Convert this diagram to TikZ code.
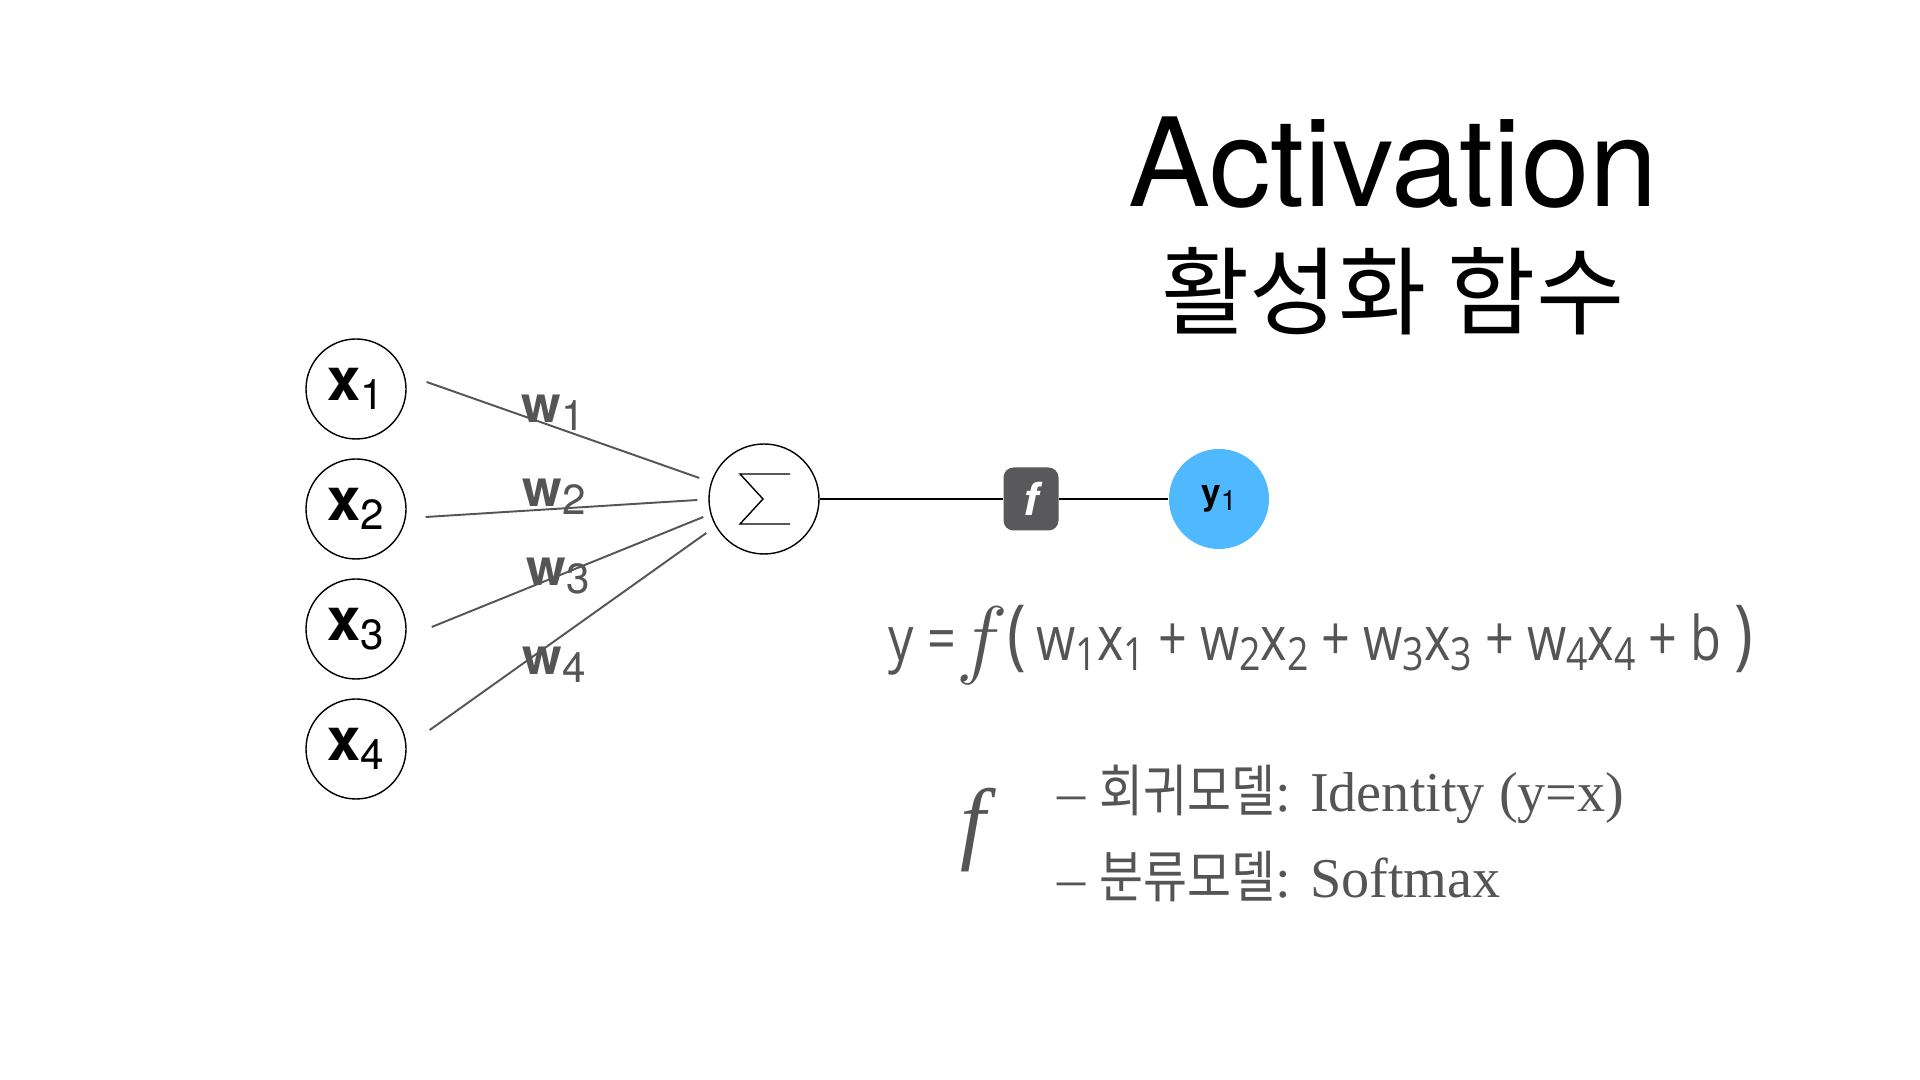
\documentclass[tikz,border=0pt]{standalone}
\usepackage{fontspec}
\usepackage{tikz}
\usepackage{xcolor}
\usetikzlibrary{calc}
\setmainfont{TeX Gyre Heros}
\newfontfamily\hangul{Noto Sans CJK KR}
\newfontfamily\hangulnarrow[FakeStretch=0.85]{Noto Sans CJK KR}
\newfontfamily\eqfont[FakeStretch=0.82]{Open Sans}
\newfontfamily\listfont{Liberation Serif}
\definecolor{txtgray}{HTML}{555555}
\definecolor{outblue}{HTML}{4FB8FF}
\definecolor{boxgray}{HTML}{59585B}
\newcommand{\insub}[2]{\textbf{#1}\raisebox{-0.3ex}{\fontsize{12}{12}\selectfont #2}}
\newcommand{\esub}[1]{\raisebox{-0.3ex}{\fontsize{13}{13}\selectfont #1}}

\begin{document}
\begin{tikzpicture}[
  neuron/.style={circle, draw, line width=0.4pt, minimum size=1cm, inner sep=0pt, font=\fontsize{17}{17}\selectfont},
  wline/.style={draw=txtgray, line width=0.55pt},
  wlabel/.style={text=txtgray, font=\fontsize{14.5}{14.5}\selectfont, inner sep=0pt},
  outline/.style={draw, line width=0.6pt}]
\useasboundingbox (0,0) rectangle (19.2,10.8);

% title
\node (title) at (13.93,9.17) {\fontsize{35}{35}\selectfont Activation};
\node (subtitle) at (13.93,7.89) {\hangul\fontsize{27.3}{27.3}\selectfont 활성화 함수};

% inputs and sum
\node[neuron] (x1) at (3.56,6.91) {\insub{x}{1}};
\node[neuron] (x2) at (3.56,5.71) {\insub{x}{2}};
\node[neuron] (x3) at (3.56,4.51) {\insub{x}{3}};
\node[neuron] (x4) at (3.56,3.31) {\insub{x}{4}};
\node[circle, draw, line width=0.4pt, minimum size=1.1cm] (sum) at (7.64,5.81) {};
\draw[line width=0.4pt] ($(sum)+(0.26,0.25)$) -- ($(sum)+(-0.24,0.25)$) -- ($(sum)+(-0.01,0)$)
  -- ($(sum)+(-0.24,-0.25)$) -- ($(sum)+(0.26,-0.25)$);

% weights
\draw[wline] ([shift={(0.20,0.07)}]x1.east) -- ([shift={(-0.09,0.21)}]sum.west);
\draw[wline] ([shift={(0.19,-0.08)}]x2.east) -- ([shift={(-0.11,-0.01)}]sum.west);
\draw[wline] ([shift={(0.25,0.02)}]x3.east) -- ([shift={(-0.05,-0.18)}]sum.west);
\draw[wline] ([shift={(0.23,0.19)}]x4.east) -- ([shift={(-0.02,-0.34)}]sum.west);
\node[wlabel] (w1) at (5.53,6.67) {\insub{w}{1}};
\node[wlabel] (w2) at (5.54,5.83) {\insub{w}{2}};
\node[wlabel] (w3) at (5.58,5.04) {\insub{w}{3}};
\node[wlabel] (w4) at (5.54,4.15) {\insub{w}{4}};

% activation and output
\node[fill=boxgray, rounded corners=0.1cm, minimum width=0.55cm, minimum height=0.63cm, inner sep=0pt,
  text=white, font=\fontsize{13}{13}\selectfont\bfseries\itshape] (act) at (10.31,5.81) {f};
\node[circle, fill=outblue, minimum size=1cm, inner sep=0pt] (y1) at (12.19,5.81)
  {\textbf{y}\raisebox{-0.3ex}{\fontsize{8}{8}\selectfont 1}};
\draw[outline] (sum) -- (act);
\draw[outline] (act) -- (y1);

% formula
\node[anchor=base west, inner sep=0pt, text=txtgray, font=\eqfont\fontsize{17.5}{17.5}\selectfont] (eq) at (8.88,4.19)
  {y =\raisebox{-0.2ex}{\fontsize{24}{24}\selectfont$f$}{\fontsize{22}{22}\selectfont(}\,w\esub{1}x\esub{1} + w\esub{2}x\esub{2} + w\esub{3}x\esub{3} + w\esub{4}x\esub{4} + b {\fontsize{22}{22}\selectfont)}};

% cases
\node[text=txtgray, font=\listfont\fontsize{26}{26}\selectfont\itshape] (fsym) at (9.73,2.50) {f};
\node[anchor=base west, inner sep=0pt, text=txtgray, font=\listfont\fontsize{16}{16}\selectfont] (reg) at (10.57,2.68)
  {– {\hangulnarrow 회귀모델}: Identity (y=x)};
\node[anchor=base west, inner sep=0pt, text=txtgray, font=\listfont\fontsize{16}{16}\selectfont] (cls) at (10.57,1.82)
  {– {\hangulnarrow 분류모델}: Softmax};
\end{tikzpicture}
\end{document}
